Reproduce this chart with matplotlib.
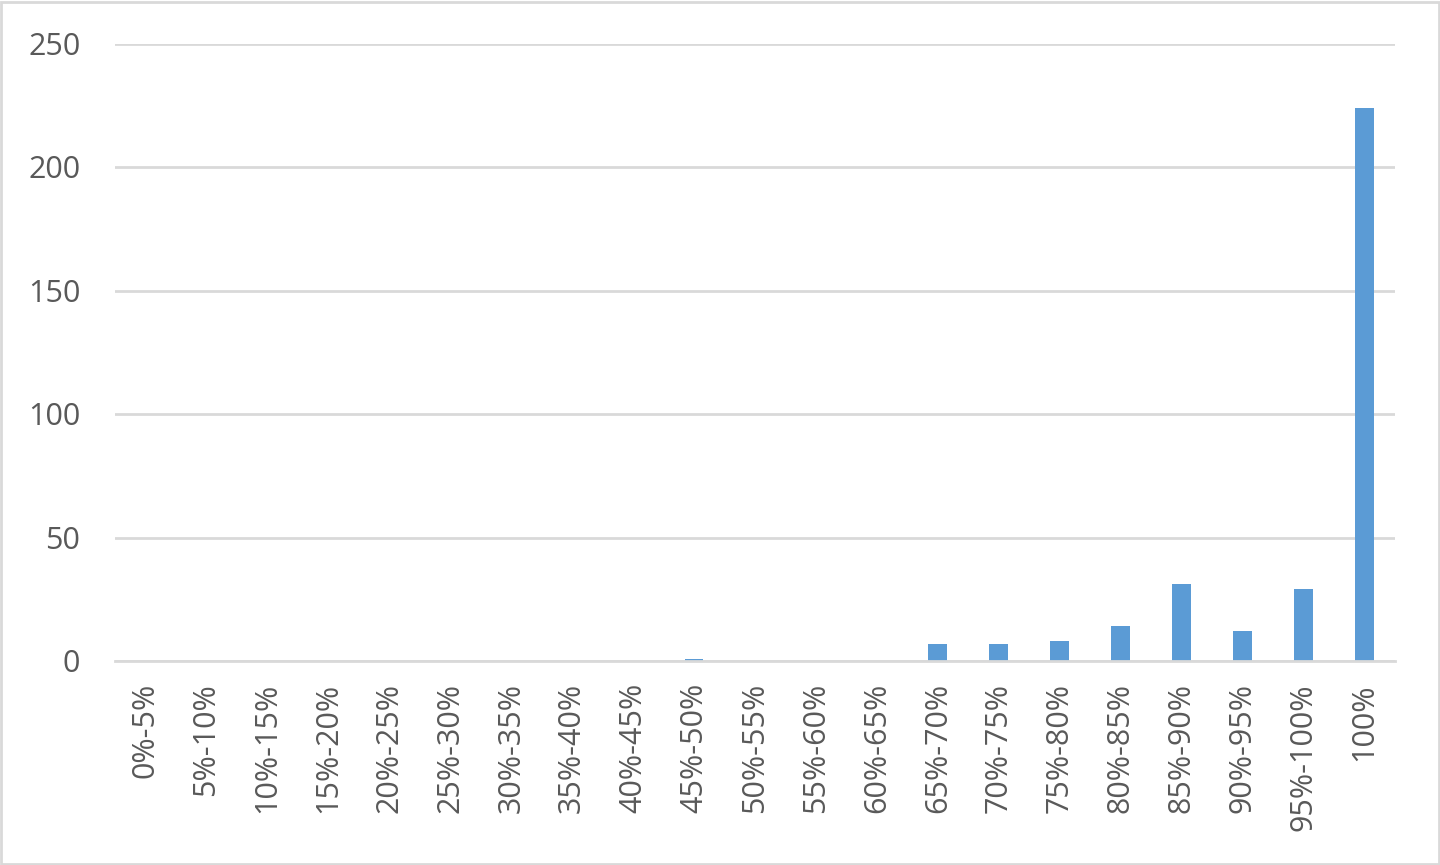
import matplotlib
matplotlib.use("Agg")
import matplotlib.pyplot as plt
import matplotlib.transforms as mtransforms
import numpy as np

categories = ["0%-5%", "5%-10%", "10%-15%", "15%-20%", "20%-25%", "25%-30%",
              "30%-35%", "35%-40%", "40%-45%", "45%-50%", "50%-55%", "55%-60%",
              "60%-65%", "65%-70%", "70%-75%", "75%-80%", "80%-85%", "85%-90%",
              "90%-95%", "95%-100%", "100%"]
counts = [0, 0, 0, 0, 0, 0, 0, 0, 0, 1, 0, 0, 0, 7, 7, 8, 14, 31, 12, 29, 224]
yticks = [0, 50, 100, 150, 200, 250]

plt.rcParams['font.family'] = ['Open Sans', 'DejaVu Sans']
text_color = "#595959"
grid_color = "#D9D9D9"

fig = plt.figure(figsize=(14.4, 8.65), dpi=100)
ax = fig.add_axes([115 / 1440, 1 - 661 / 865, (1395 - 115) / 1440, (661 - 44) / 865])

x = np.arange(len(categories))
ax.bar(x, counts, width=0.31, color="#5B9BD5", zorder=3)

ax.set_xlim(-0.5, len(categories) - 0.5)
ax.set_ylim(0, 250)
ax.set_yticks(yticks)
ax.set_xticks(x)
ax.set_xticklabels(categories, rotation=90, va="top", ha="center")
ax.tick_params(axis="x", length=0, pad=16, labelsize=22, labelcolor=text_color)
ax.tick_params(axis="y", length=0, pad=25, labelsize=22, labelcolor=text_color)
shift = mtransforms.ScaledTranslation(0, -3 / 100, fig.dpi_scale_trans)
for lab in ax.get_yticklabels():
    lab.set_verticalalignment("center")
    lab.set_transform(lab.get_transform() + shift)

ax.grid(axis="y", color=grid_color, linewidth=2, zorder=0)
for side in ["top", "right", "left"]:
    ax.spines[side].set_visible(False)
ax.spines["bottom"].set_color(grid_color)
ax.spines["bottom"].set_linewidth(2)
ax.spines["bottom"].set_zorder(4)

# light frame around the whole chart
fig.patches.append(plt.Rectangle((0.001, 0.001), 0.998, 0.997, transform=fig.transFigure,
                                 fill=False, edgecolor=grid_color, linewidth=2))

fig.savefig("out.png", dpi=100)
